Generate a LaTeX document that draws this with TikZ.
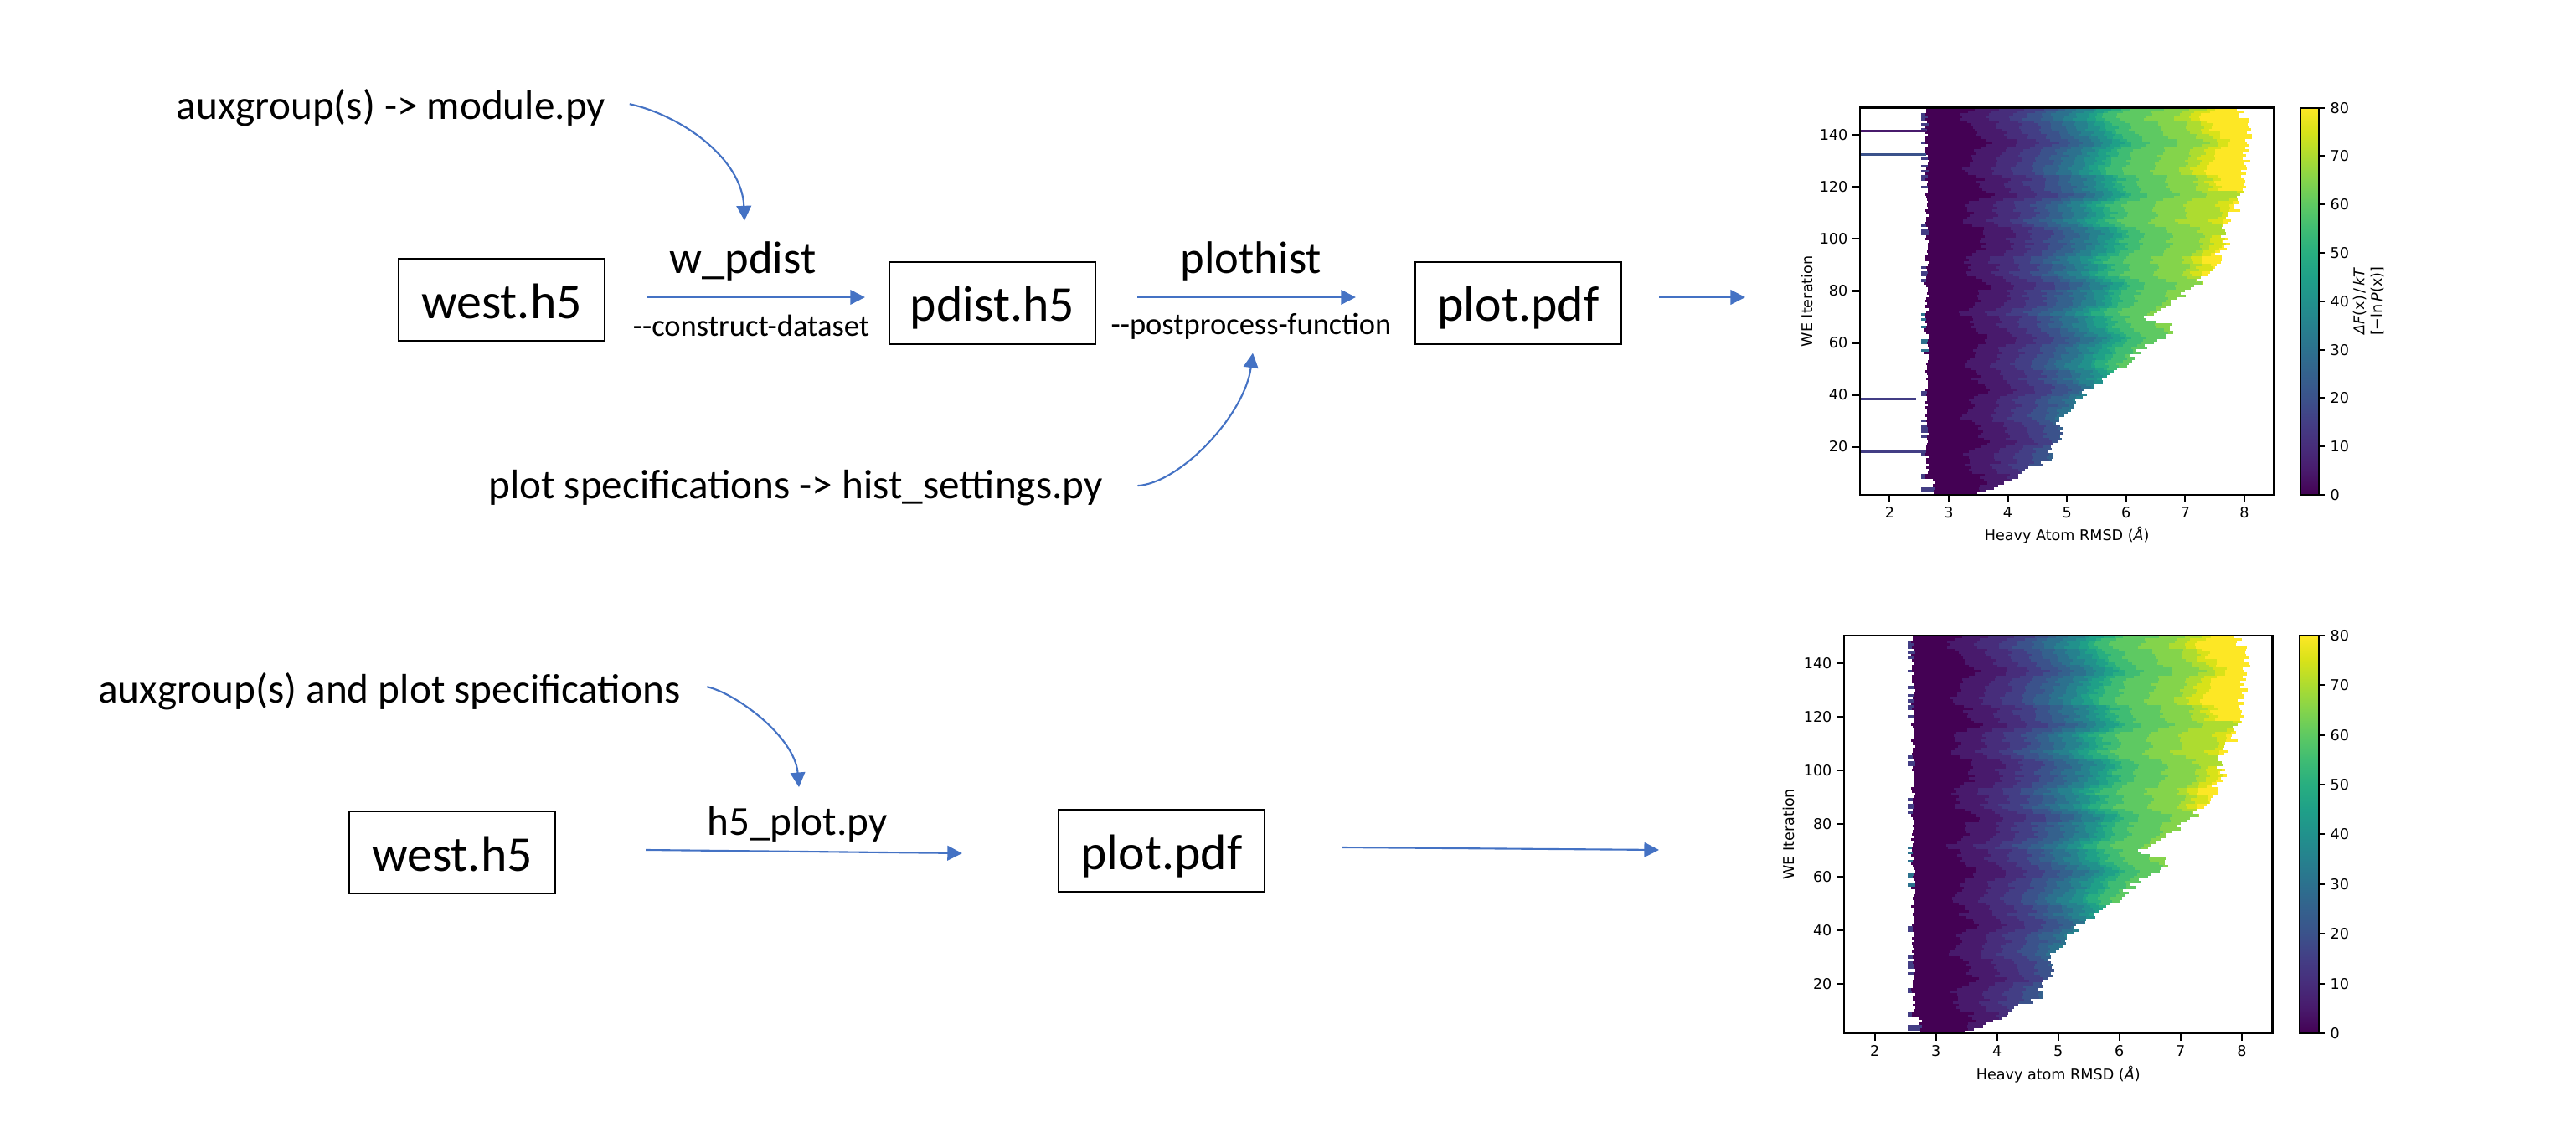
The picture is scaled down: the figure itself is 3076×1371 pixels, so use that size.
\documentclass[tikz,border=0pt]{standalone}
\usepackage{fontspec}
\setmainfont{Carlito}
\newfontfamily\plotfont{DejaVu Sans}
\usetikzlibrary{arrows.meta,positioning,calc}
\definecolor{flowblue}{HTML}{4472C4}
\definecolor{vir0}{HTML}{440154}
\definecolor{vir1}{HTML}{481A6C}
\definecolor{vir2}{HTML}{472D7B}
\definecolor{vir3}{HTML}{433E85}
\definecolor{vir4}{HTML}{3B528B}
\definecolor{vir5}{HTML}{34618D}
\definecolor{vir6}{HTML}{2C718E}
\definecolor{vir7}{HTML}{26818E}
\definecolor{vir8}{HTML}{21918C}
\definecolor{vir9}{HTML}{1FA088}
\definecolor{vir10}{HTML}{28AE80}
\definecolor{vir11}{HTML}{3FBC73}
\definecolor{vir12}{HTML}{5EC962}
\definecolor{vir13}{HTML}{84D44B}
\definecolor{vir14}{HTML}{ADDC30}
\definecolor{vir15}{HTML}{D8E219}
\definecolor{vir16}{HTML}{FDE725}

\begin{document}
\begin{tikzpicture}[x=0.01cm, y=-0.01cm,
  file/.style={draw, line width=0.6pt, inner sep=0pt, minimum width=2.46cm,
    text height=0.71cm, text depth=0.27cm, font=\fontsize{17}{20}\selectfont},
  cmd/.style={anchor=base, inner sep=0pt, font=\fontsize{15.5}{18}\selectfont},
  opt/.style={anchor=base, inner sep=0pt, font=\fontsize{10.4}{12}\selectfont},
  note/.style={anchor=base, inner sep=0pt, font=\fontsize{14}{17}\selectfont},
  flow/.style={flowblue, line width=0.6pt, -{Triangle[length=5pt,width=5pt]}},
  tick/.style={inner sep=0pt, font=\plotfont\fontsize{5}{6}\selectfont}]
  \useasboundingbox (0,0) rectangle (3076,1371);

  \node[file] (west1) at (599,358) {west.h5};
  \node[file] (pdist) at (1185,362) {pdist.h5};
  \node[file] (plot1) at (1813,362) {plot.pdf};
  \node[cmd] (wpdist) at (887,327) {w\_pdist};
  \node[opt] (construct) at (897,402) {-{}-construct-dataset};
  \node[cmd] (plothist) at (1494,327) {plothist};
  \node[opt] (postproc) at (1494,400) {-{}-postprocess-function};
  \node[note] (aux1) at (467,143) {auxgroup(s) -> module.py};
  \node[note] (spec) at (950,596) {plot specifications -> hist\_settings.py};
  \coordinate (fig1) at (2084,355);
  \draw[flow] ($(west1.east)+(49,-3)$) -- ($(pdist.west)+(-28,-7)$);
  \draw[flow] ($(pdist.east)+(49,-7)$) -- ($(plot1.west)+(-70,-7)$);
  \draw[flow] ($(plot1.east)+(44,-7)$) -- (fig1);
  \draw[flow] ($(aux1.east)+(28,-5)$) .. controls +(60,13) and +(-3,-75) .. ($(wpdist.north)+(2,-25)$);
  \draw[flow] ($(spec.east)+(41,-3)$) .. controls +(50,-3) and +(-10,75) .. ($(postproc.south)+(2,15)$);

  \node[file] (west2) at (540,1018) {west.h5};
  \node[file] (plot2) at (1387,1016) {plot.pdf};
  \node[note] (h5plot) at (952,998) {h5\_plot.py};
  \node[note] (aux2) at (465,840) {auxgroup(s) and plot specifications};
  \coordinate (fig2) at (1981,1015);
  \draw[flow] ($(west2.east)+(107,-3)$) -- ($(plot2.west)+(-114,3)$);
  \draw[flow] ($(plot2.east)+(91,-4)$) -- (fig2);
  \draw[flow] ($(aux2.east)+(31,-6)$) .. controls +(35,8) and +(-5,-60) .. ($(h5plot.north)+(2,-23)$);

  \foreach \ox/\oy/\ux/\uy/\xl [count=\np] in {2115.1/595.65/0.7057/0.031/Heavy Atom, 2092.5/1238.8/0.73/0.03188/Heavy atom} {
    \begin{scope}[shift={(\ox,\oy)}, x=\ux cm, y=\uy cm]
      \pgfmathsetseed{7}
      \foreach \ib/\rb [remember=\ib as \ia (initially 2), remember=\rb as \ra (initially 3.5)] in
        {5/3.85, 8/4.15, 15/4.65, 25/4.9, 30/4.85, 35/5.05, 41/5.3, 46/5.65, 53/6.05, 58/6.3, 64/6.75,
         67/6.7, 69/6.3, 72/6.45, 77/6.9, 86/7.4, 98/7.7, 103/7.6, 113/7.9, 125/8.0, 142/8.1, 151/7.9} {
        \pgfmathtruncatemacro\ie{\ib-1}
        \foreach \row in {\ia,...,\ie} {
          \pgfmathsetmacro\R{\ra+(\rb-\ra)*(\row-\ia)/(\ib-\ia)+0.09*rand}
          \pgfmathsetmacro\L{(\row<8?2.74:2.63)+0.035*rand}
          \pgfmathsetmacro\lx{rnd>0.78?2.54:\L}
          \pgfmathsetmacro\sh{0.16*sin(\row*19)+0.08*sin(\row*53+40)+0.06*rand}
          \pgfmathsetmacro\yb{(\row>101&&\row<119)?0.35:0}
          \pgfmathtruncatemacro\lc{(\row>44&&\row<72)?6:3}
          \fill[vir\lc] (\lx,\row-0.5) rectangle (\L+0.05,\row+0.55);
          \fill[vir0] (\L,\row-0.5) rectangle (\R,\row+0.55);
          \foreach \k/\b in {1/3.45, 2/3.9, 3/4.25, 4/4.55, 5/4.8, 6/5.0, 7/5.2, 8/5.4,
                             9/5.55, 10/5.7, 11/5.85, 12/6.1, 13/6.6, 14/7.1, 15/7.3, 16/7.5} {
            \pgfmathsetmacro\xb{\b+\sh+0.06*rand+(\k>14?\yb:0)}
            \ifdim\xb pt<\R pt \fill[vir\k] (\xb,\row-0.5) rectangle (\R,\row+0.55); \fi
          }
        }
      }
      \ifnum\np=1
        \fill[vir1] (1.5,141) rectangle (2.62,142);
        \fill[vir4] (1.5,132) rectangle (2.62,133);
        \fill[vir3] (1.5,37.8) rectangle (2.45,38.8);
        \fill[vir3] (1.5,17.7) rectangle (2.62,18.7);
        \node[tick, rotate=90, align=center] (cblab) at (10.1,76)
          {{\itshape ΔF}(x)\,/\,{\itshape kT}\\ {[}−ln\,{\itshape P}(x)]};
      \fi
      \draw[line width=0.7pt] (1.5,1.5) rectangle (8.5,150.5);
      \foreach \t in {2,...,8} {
        \draw[line width=0.6pt] (\t,1.5) -- ++(0pt,-0.09cm);
        \node[tick, anchor=north] (xt\np\t) at ([yshift=-0.14cm]\t,1.5) {\t};
      }
      \foreach \t in {20,40,...,140} {
        \draw[line width=0.6pt] (1.5,\t) -- ++(-0.09cm,0pt);
        \node[tick, anchor=east] (yt\np\t) at ([xshift=-0.14cm]1.5,\t) {\t};
      }
      \node[tick, rotate=90] (ylab\np) at (0.6,76) {WE Iteration};
      \node[tick] (xlab\np) at (5,-14) {\xl\ RMSD ({\itshape Å})};
      \foreach \k [evaluate=\k as \kk using int(\k+1)] in {0,...,15}
        \shade[bottom color=vir\k, top color=vir\kk] (8.95,{1.5+\k*149/16}) rectangle (9.26,{1.5+\kk*149/16});
      \draw[line width=0.6pt] (8.95,1.5) rectangle (9.26,150.5);
      \foreach \v in {0,10,...,80} {
        \draw[line width=0.6pt] (9.26,{1.5+\v*149/80}) -- ++(0.07cm,0pt);
        \node[tick, anchor=west] (ct\np\v) at ([xshift=0.13cm]9.26,{1.5+\v*149/80}) {\v};
      }
    \end{scope}
  }
\end{tikzpicture}
\end{document}
